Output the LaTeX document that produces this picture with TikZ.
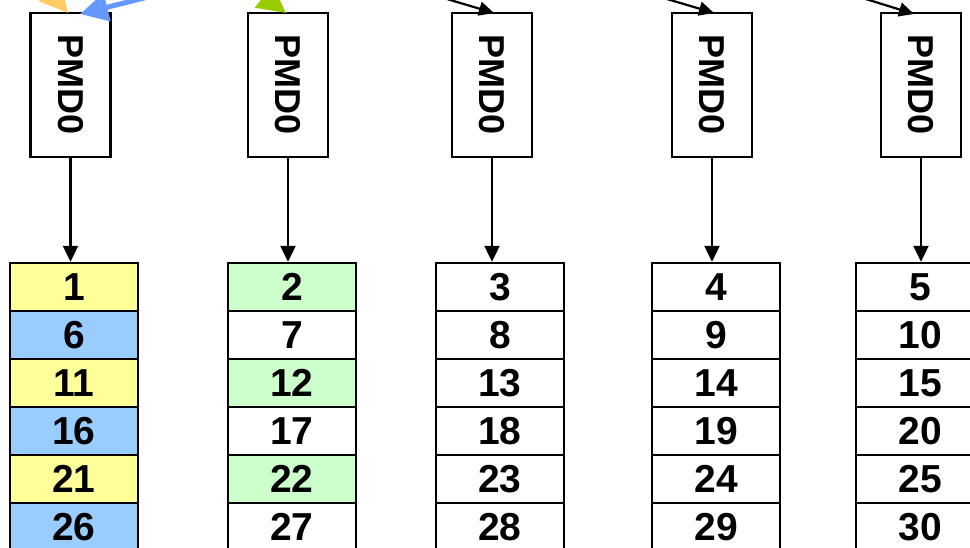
\documentclass[tikz,border=0pt]{standalone}
\usepackage{fontspec}
\setmainfont{Liberation Sans}
\usetikzlibrary{arrows.meta}
\definecolor{cyellow}{HTML}{FFFF99}
\definecolor{cblue}{HTML}{99CCFF}
\definecolor{cgreen}{HTML}{CCFFCC}
\definecolor{aorange}{HTML}{FFCC66}
\definecolor{ablue}{HTML}{6699FF}
\definecolor{agreen}{HTML}{99CC00}
\tikzset{
  pmdbox/.style={draw, line width=2.2pt, minimum width=80pt, minimum height=144pt, inner sep=0pt},
  pmdtext/.style={rotate=-90, font=\bfseries\fontsize{36}{36}\selectfont, inner sep=0pt},
  cell/.style={draw, line width=2.4pt, minimum width=128pt, minimum height=48pt, inner sep=0pt,
    font=\bfseries\fontsize{39}{39}\selectfont},
  down/.style={line width=2.2pt, -{Triangle[length=16pt,width=15pt]}},
  blk/.style={line width=2.2pt, -{Triangle[length=15pt,width=14pt]}},
  fat/.style={line width=5pt, -{Triangle[length=28pt,width=28pt]}}
}
\begin{document}
\begin{tikzpicture}[x=1pt,y=-1pt]
\useasboundingbox (0,0) rectangle (970,548);
\clip (0,0) rectangle (970,548);
\fill[white] (0,0) rectangle (970,548);
% PMD boxes
\foreach \i/\x in {1/70.5,2/288,3/492,4/712,5/921}{
  \node[pmdbox] (p\i) at (\x,85) {};
  \node[pmdtext] (t\i) at (\x,85) {PMD0};
}
% column 1
\node[cell, fill=cyellow] (c1r1) at (74,287) {1};
\node[cell, fill=cblue]   (c1r2) at (74,335) {6};
\node[cell, fill=cyellow] (c1r3) at (74,383) {11};
\node[cell, fill=cblue]   (c1r4) at (74,431) {16};
\node[cell, fill=cyellow] (c1r5) at (74,479) {21};
\node[cell, fill=cblue]   (c1r6) at (74,527) {26};
% column 2
\node[cell, fill=cgreen] (c2r1) at (292,287) {2};
\node[cell, fill=white]  (c2r2) at (292,335) {7};
\node[cell, fill=cgreen] (c2r3) at (292,383) {12};
\node[cell, fill=white]  (c2r4) at (292,431) {17};
\node[cell, fill=cgreen] (c2r5) at (292,479) {22};
\node[cell, fill=white]  (c2r6) at (292,527) {27};
% columns 3-5
\foreach \c/\x/\s in {3/500/3,4/716/4,5/920/5}{
  \foreach \r in {1,...,6}{
    \pgfmathtruncatemacro{\v}{\s+5*(\r-1)}
    \node[cell, fill=white] (c\c r\r) at (\x,{287+48*(\r-1)}) {\v};
  }
}
% vertical arrows
\foreach \i in {1,...,5}{
  \draw[down] (p\i.south) -- (p\i.south |- c\i r1.north);
}
% incoming arrows at top
\coordinate (so) at (28,-34);
\coordinate (to) at (68,13);
\draw[fat, aorange] (so) -- (to);
\coordinate (sb) at (180,-11);
\coordinate (tb) at (80,14);
\draw[fat, ablue] (sb) -- (tb);
\coordinate (sg) at (240,-22);
\coordinate (tg) at (286,13);
\draw[fat, agreen] (sg) -- (tg);
\coordinate (s3) at (420,-9);
\coordinate (e3) at (494,13);
\draw[blk] (s3) -- (e3);
\coordinate (s4) at (640,-9);
\coordinate (e4) at (714,13);
\draw[blk] (s4) -- (e4);
\coordinate (s5) at (840,-9);
\coordinate (e5) at (914,14);
\draw[blk] (s5) -- (e5);
\end{tikzpicture}
\end{document}
